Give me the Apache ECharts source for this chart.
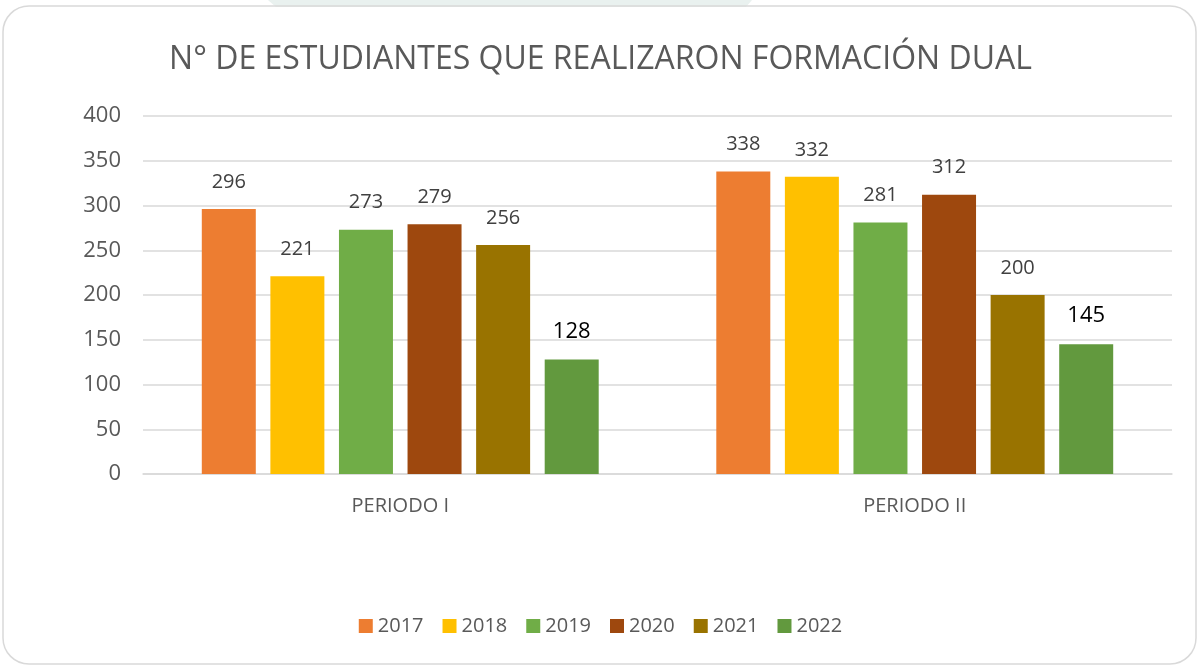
<!DOCTYPE html>
<html>
<head>
<meta charset="utf-8">
<script src="https://cdn.jsdelivr.net/npm/echarts@6/dist/echarts.min.js"></script>
<style>
  html, body { margin: 0; padding: 0; background: #fff; }
  #chart { width: 1201px; height: 668px; }
</style>
</head>
<body>
<div id="chart"></div>
<script>
// data
const categories = ['PERIODO I', 'PERIODO II'];
const years = ['2017', '2018', '2019', '2020', '2021', '2022'];
const values2017 = [296, 338];
const values2018 = [221, 332];
const values2019 = [273, 281];
const values2020 = [279, 312];
const values2021 = [256, 200];
const values2022 = [128, 145];
const yTicks = [0, 50, 100, 150, 200, 250, 300, 350, 400];

const colors = ['#ED7D31', '#FFC000', '#70AD47', '#9E480E', '#997300', '#62993E'];
const allValues = [values2017, values2018, values2019, values2020, values2021, values2022];
const font = '"Open Sans", sans-serif';

let chart = echarts.init(document.getElementById('chart'));

let series = years.map((y, i) => {
  let last = i === years.length - 1;
  return {
    name: y,
    type: 'bar',
    data: allValues[i],
    barWidth: 54,
    barGap: '27%',
    itemStyle: { color: colors[i] },
    label: {
      show: true,
      position: 'top',
      distance: 17,
      fontFamily: font,
      fontSize: last ? 22 : 20,
      color: last ? '#000' : '#404040'
    }
  };
});

let option = {
  animation: false,
  backgroundColor: '#fff',
  color: colors,
  title: {
    text: 'N° DE ESTUDIANTES QUE REALIZARON FORMACIÓN DUAL',
    left: 'center',
    top: 39,
    textStyle: { fontFamily: font, fontSize: 32, fontWeight: 'normal', color: '#595959' }
  },
  legend: {
    bottom: 27,
    left: 'center',
    itemWidth: 14,
    itemHeight: 14,
    itemGap: 19,
    icon: 'rect',
    textStyle: { fontFamily: font, fontSize: 20, color: '#595959' }
  },
  grid: { left: 143, right: 29, top: 116, bottom: 194 },
  xAxis: {
    type: 'category',
    data: categories,
    axisTick: { show: false },
    axisLine: { show: true, lineStyle: { color: '#d9d9d9', width: 1.5 } },
    axisLabel: { fontFamily: font, fontSize: 20, color: '#595959', margin: 22 }
  },
  yAxis: {
    type: 'value',
    min: yTicks[0],
    max: yTicks[yTicks.length - 1],
    interval: 50,
    axisLine: { show: false },
    axisTick: { show: false },
    splitLine: { lineStyle: { color: '#d9d9d9', width: 1.5 } },
    axisLabel: { fontFamily: font, fontSize: 22, color: '#595959', margin: 22 }
  },
  graphic: [
    {
      type: 'polygon',
      shape: { points: [[268, 0], [752, 0], [746, 7], [276, 7]] },
      style: { fill: '#e9f1ef' },
      z: -1
    },
    {
      type: 'rect',
      shape: { x: 3, y: 6, width: 1193, height: 658, r: 26 },
      style: { fill: 'none', stroke: '#d9d9d9', lineWidth: 1.5 },
      z: -1
    }
  ],
  series: series
};

chart.setOption(option);
</script>
</body>
</html>
